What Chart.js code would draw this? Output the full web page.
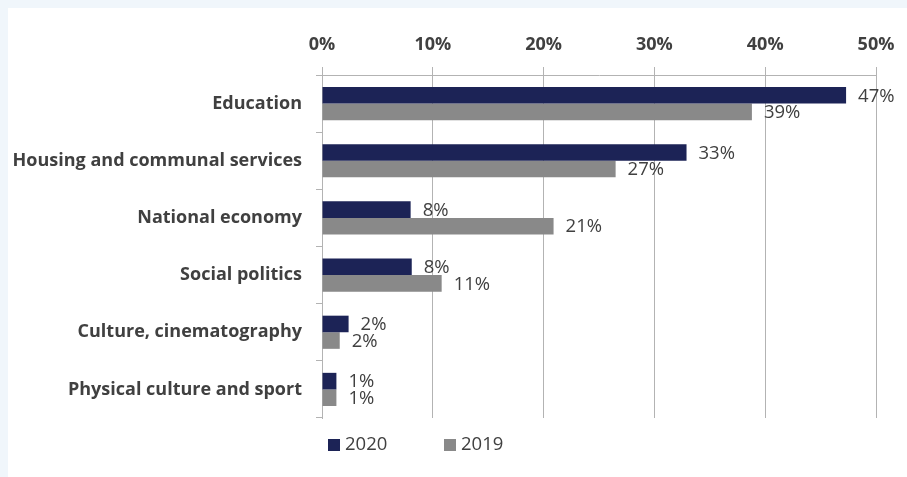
<!DOCTYPE html>
<html><head><meta charset="utf-8">
<script src="https://cdn.jsdelivr.net/npm/chart.js@4.4.0/dist/chart.umd.min.js"></script>
<style>html,body{margin:0;padding:0;background:#fff;overflow:hidden;}</style>
</head><body>
<canvas id="c" width="907" height="477" style="display:block;width:907px;height:477px"></canvas>
<script>
const categories = ['Education', 'Housing and communal services', 'National economy', 'Social politics', 'Culture, cinematography', 'Physical culture and sport'];
const values2020 = [47.3, 32.9, 8.0, 8.1, 2.4, 1.3];
const values2019 = [38.8, 26.5, 20.9, 10.8, 1.6, 1.3];
const seriesNames = ['2020', '2019'];
const seriesColors = ['#1c2356', '#898989'];
const xTickValues = [0, 10, 20, 30, 40, 50];

const TEXT = '#404040';
const GRID = '#b3b3b3';

const bgPlugin = {
  id: 'bg',
  beforeDraw(chart) {
    const ctx = chart.ctx;
    ctx.save();
    ctx.fillStyle = '#f0f6fb';
    ctx.fillRect(0, 0, chart.width, chart.height);
    ctx.fillStyle = '#ffffff';
    ctx.fillRect(8, 8, chart.width - 8, chart.height - 8);
    ctx.restore();
  }
};

const labelPlugin = {
  id: 'valueLabels',
  afterDatasetsDraw(chart) {
    const ctx = chart.ctx;
    ctx.save();
    ctx.font = '18.5px "Open Sans"';
    ctx.fillStyle = TEXT;
    ctx.textAlign = 'left';
    ctx.textBaseline = 'middle';
    chart.data.datasets.forEach((ds, di) => {
      const meta = chart.getDatasetMeta(di);
      meta.data.forEach((bar, i) => {
        ctx.fillText(Math.round(ds.data[i]) + '%', bar.x + 12, bar.y + 1);
      });
    });
    ctx.restore();
  }
};

const legendPlugin = {
  id: 'customLegend',
  afterDraw(chart) {
    const ctx = chart.ctx;
    const a = chart.chartArea;
    ctx.save();
    ctx.font = '18.5px "Open Sans"';
    ctx.textBaseline = 'middle';
    ctx.textAlign = 'left';
    const cy = a.bottom + 26;
    let x = a.left + 6;
    chart.data.datasets.forEach((ds) => {
      ctx.fillStyle = ds.backgroundColor;
      ctx.fillRect(x, cy - 5, 12, 12);
      ctx.fillStyle = TEXT;
      ctx.fillText(ds.label, x + 17, cy + 1);
      x += 116;
    });
    ctx.restore();
  }
};

new Chart(document.getElementById('c'), {
  type: 'bar',
  data: {
    labels: categories,
    datasets: [
      { label: seriesNames[0], data: values2020, backgroundColor: seriesColors[0], borderWidth: 0 },
      { label: seriesNames[1], data: values2019, backgroundColor: seriesColors[1], borderWidth: 0 }
    ]
  },
  options: {
    responsive: false,
    animation: false,
    devicePixelRatio: 1,
    indexAxis: 'y',
    datasets: { bar: { categoryPercentage: 0.58, barPercentage: 1.0 } },
    layout: { padding: { left: 8, right: 31, top: 8, bottom: 59 } },
    plugins: { legend: { display: false }, tooltip: { enabled: false } },
    scales: {
      x: {
        position: 'top',
        min: xTickValues[0],
        max: xTickValues[xTickValues.length - 1],
        afterBuildTicks(s) { s.ticks = xTickValues.map(v => ({ value: v })); },
        ticks: { callback: v => v + '%', font: { family: 'Open Sans', size: 18, weight: 'bold' }, color: TEXT, padding: 11 },
        grid: { color: GRID, lineWidth: 1, tickLength: 8, drawTicks: true },
        border: { display: true, color: GRID },
        afterFit(s) { s.height = 67; }
      },
      y: {
        ticks: { font: { family: 'Open Sans', size: 18, weight: 'bold' }, color: TEXT, padding: 14 },
        grid: { drawOnChartArea: false, tickLength: 6, color: GRID, offset: true },
        border: { display: true, color: GRID },
        afterFit(s) { s.width = 314; }
      }
    }
  },
  plugins: [bgPlugin, labelPlugin, legendPlugin]
});
</script>
</body></html>
